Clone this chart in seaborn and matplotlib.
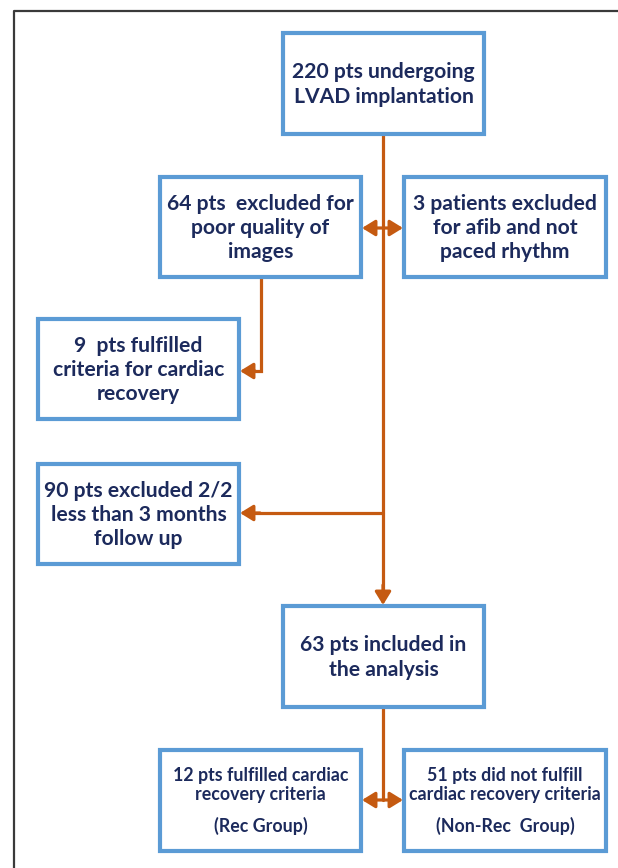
import matplotlib
matplotlib.use("Agg")
import matplotlib.pyplot as plt
from matplotlib.patches import Rectangle
import seaborn as sns

sns.set_theme(style="white")
plt.rcParams['font.family'] = ['Lato', 'DejaVu Sans']

# ---- content ----
box_texts = [
    "220 pts undergoing\nLVAD implantation",
    "64 pts  excluded for\npoor quality of\nimages",
    "3 patients excluded\nfor afib and not\npaced rhythm",
    "9  pts fulfilled\ncriteria for cardiac\nrecovery",
    "90 pts excluded 2/2\nless than 3 months\nfollow up",
    "63 pts included in\nthe analysis",
]
group_texts = [
    "12 pts fulfilled cardiac\nrecovery criteria",
    "51 pts did not fulfill\ncardiac recovery criteria",
]
group_labels = ["(Rec Group)", "(Non-Rec  Group)"]

# ---- layout (pixel coordinates: x0, y0, x1, y1) ----
W, H = 618, 868
boxes = [
    (283, 33, 484, 134),
    (160, 177, 361, 277),
    (404, 177, 606, 277),
    (38, 319, 239, 419),
    (38, 464, 239, 564),
    (283, 606, 484, 707),
    (160, 750, 361, 851),
    (404, 750, 606, 851),
]

BLUE = "#5b9bd5"
ORANGE = "#c55a11"
NAVY = "#1c2a5c"

fig = plt.figure(figsize=(W / 100, H / 100), dpi=100)
ax = fig.add_axes([0, 0, 1, 1])
ax.set_xlim(0, W)
ax.set_ylim(H, 0)
ax.axis("off")

# outer frame (left and top)
ax.plot([14, 14, W + 5], [H + 5, 11, 11], color="#3a3a3a", lw=1.6, solid_capstyle="butt")

# boxes
for (x0, y0, x1, y1) in boxes:
    ax.add_patch(Rectangle((x0, y0), x1 - x0, y1 - y0, fill=True, facecolor="white",
                           edgecolor=BLUE, lw=3.0, zorder=3))

# texts
for (x0, y0, x1, y1), t in zip(boxes[:6], box_texts):
    ax.text((x0 + x1) / 2, (y0 + y1) / 2 + 1, t, ha="center", va="center",
            fontsize=15.2, fontweight="bold", color=NAVY, linespacing=1.27, zorder=4)
for (x0, y0, x1, y1), t, lab in zip(boxes[6:], group_texts, group_labels):
    cx = (x0 + x1) / 2
    ax.text(cx, 785, t, ha="center", va="center", fontsize=12.8, fontweight="bold",
            color=NAVY, linespacing=1.15, zorder=4)
    ax.text(cx, 826, lab, ha="center", va="center", fontsize=12.8, fontweight="bold",
            color=NAVY, zorder=4)

lw = 2.3
hs = "head_length=0.65,head_width=0.4"
# main trunk
ax.plot([383, 383], [135, 590], color=ORANGE, lw=lw, zorder=2, solid_capstyle="butt")
ax.annotate("", xy=(383, 605), xytext=(383, 585),
            arrowprops=dict(arrowstyle="-|>," + hs, color=ORANGE,
                            lw=lw, shrinkA=0, shrinkB=0), zorder=2)

# double arrow between box2 and box3
ax.annotate("", xy=(403, 228), xytext=(362, 228),
            arrowprops=dict(arrowstyle="<|-|>," + hs, color=ORANGE,
                            lw=lw, shrinkA=0, shrinkB=0), zorder=2)

# elbow from box2 to box4
ax.plot([261, 261, 250], [278, 371, 371], color=ORANGE, lw=lw, zorder=2,
        solid_joinstyle="miter")
ax.annotate("", xy=(240, 371), xytext=(255, 371),
            arrowprops=dict(arrowstyle="-|>," + hs, color=ORANGE,
                            lw=lw, shrinkA=0, shrinkB=0), zorder=2)

# branch to box5
ax.plot([383, 255], [513, 513], color=ORANGE, lw=lw, zorder=2)
ax.annotate("", xy=(240, 513), xytext=(260, 513),
            arrowprops=dict(arrowstyle="-|>," + hs, color=ORANGE,
                            lw=lw, shrinkA=0, shrinkB=0), zorder=2)

# from box6 down to groups
ax.plot([383, 383], [708, 800], color=ORANGE, lw=lw, zorder=2)
ax.annotate("", xy=(403, 800), xytext=(362, 800),
            arrowprops=dict(arrowstyle="<|-|>," + hs, color=ORANGE,
                            lw=lw, shrinkA=0, shrinkB=0), zorder=2)

fig.savefig("out.png", dpi=100, facecolor="white")
